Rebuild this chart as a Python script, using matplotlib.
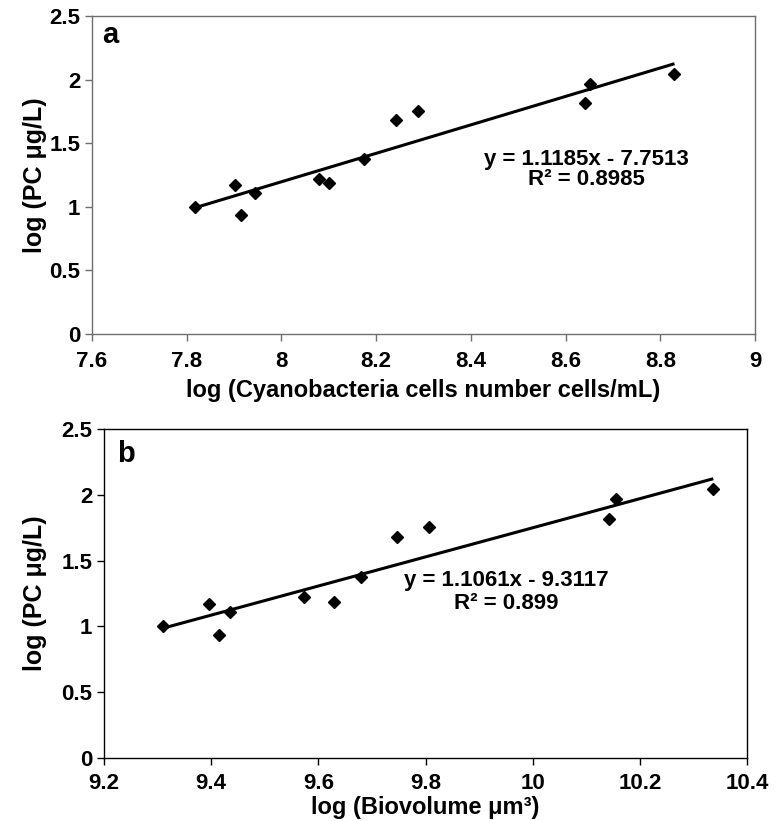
import matplotlib
matplotlib.use("Agg")
import matplotlib.pyplot as plt
import numpy as np

plt.rcParams['font.family'] = ['Liberation Sans', 'DejaVu Sans']
plt.rcParams['font.weight'] = 'bold'

# Data
log_pc = [1.00, 1.17, 0.935, 1.11, 1.22, 1.187, 1.378, 1.68, 1.752, 1.815, 1.966, 2.043]
log_cells = [7.817, 7.903, 7.915, 7.944, 8.079, 8.101, 8.175, 8.241, 8.289, 8.641, 8.651, 8.830]
log_biovol = [9.310, 9.396, 9.414, 9.436, 9.574, 9.629, 9.680, 9.746, 9.807, 10.142, 10.155, 10.337]

fit_a = (1.1185, -7.7513, 0.8985)
fit_b = (1.1061, -9.3117, 0.899)

xticks_a = [7.6, 7.8, 8.0, 8.2, 8.4, 8.6, 8.8, 9.0]
xticklabels_a = ['7.6', '7.8', '8', '8.2', '8.4', '8.6', '8.8', '9']
xticks_b = [9.2, 9.4, 9.6, 9.8, 10.0, 10.2, 10.4]
xticklabels_b = ['9.2', '9.4', '9.6', '9.8', '10', '10.2', '10.4']
yticks = [0, 0.5, 1, 1.5, 2, 2.5]
yticklabels = ['0', '0.5', '1', '1.5', '2', '2.5']

fig = plt.figure(figsize=(7.8, 8.21), dpi=100)
ax_a = fig.add_axes([92/780, 1-334/821, 663/780, 318/821])
ax_b = fig.add_axes([104/780, 1-758/821, 643/780, 329/821])


def draw(ax, x, fit, xticks, xticklabels, xlabel, letter, spine_color,
         eq_x, eq_y1, eq_y2, letter_xy, xpad, xlabelpad, ylab_x):
    slope, icpt, r2 = fit
    ax.plot(x, log_pc, linestyle='none', marker='D', markersize=6.5,
            color='black', zorder=3)
    xl = np.array([min(x), max(x)])
    ax.plot(xl, slope * xl + icpt, color='black', lw=2.2, zorder=2,
            solid_capstyle='butt')
    ax.set_xlim(xticks[0], xticks[-1])
    ax.set_ylim(0, 2.5)
    ax.set_xticks(xticks)
    ax.set_xticklabels(xticklabels)
    ax.set_yticks(yticks)
    ax.set_yticklabels(yticklabels)
    ax.tick_params(direction='out', length=5, width=1.0, labelsize=16,
                   color=spine_color)
    ax.tick_params(axis='x', pad=xpad)
    ax.tick_params(axis='y', pad=3.5)
    for lab in ax.get_xticklabels() + ax.get_yticklabels():
        lab.set_fontweight('bold')
    for s in ax.spines.values():
        s.set_color(spine_color)
        s.set_linewidth(1.0)
    ax.set_xlabel(xlabel, fontsize=17, fontweight='bold', labelpad=xlabelpad)
    ax.set_ylabel('log (PC \u03bcg/L)', fontsize=18, fontweight='bold')
    ax.yaxis.set_label_coords(ylab_x, 0.5)
    ax.text(letter_xy[0], letter_xy[1], letter, transform=ax.transAxes,
            fontsize=21, fontweight='bold', ha='left', va='baseline')
    sign = '-' if icpt < 0 else '+'
    ax.text(eq_x, eq_y1, f'y = {slope}x {sign} {abs(icpt)}',
            fontsize=16, fontweight='bold', ha='center', va='center')
    ax.text(eq_x, eq_y2, f'R\u00b2 = {r2}',
            fontsize=16, fontweight='bold', ha='center', va='center')


draw(ax_a, log_cells, fit_a, xticks_a, xticklabels_a,
     'log (Cyanobacteria cells number cells/mL)', 'a', '#6e6e6e',
     8.644, 1.374, 1.212, (0.015, 0.915), 7, 5, (47 - 92) / 663)
draw(ax_b, log_biovol, fit_b, xticks_b, xticklabels_b,
     'log (Biovolume \u03bcm\u00b3)', 'b', 'black',
     9.95, 1.35, 1.173, (0.02, 0.90), 6, 1, (47 - 104) / 643)

fig.savefig('out.png', dpi=100)
